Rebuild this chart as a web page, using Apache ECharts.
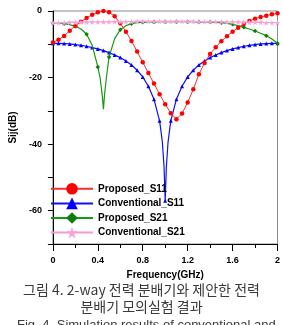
<!DOCTYPE html>
<html>
<head>
<meta charset="utf-8">
<script src="https://cdn.jsdelivr.net/npm/echarts@6/dist/echarts.min.js"></script>
<style>
  html, body { margin: 0; padding: 0; background: #fff; }
  #chart { width: 283px; height: 325px; }
</style>
</head>
<body>
<div id="chart"></div>
<script>
// frequency points (GHz)
const freq = [0, 0.05, 0.1, 0.15, 0.2, 0.25, 0.3, 0.35, 0.4, 0.45, 0.5, 0.55, 0.6, 0.65, 0.7, 0.75, 0.8, 0.85, 0.9, 0.95,
  1.0, 1.05, 1.1, 1.15, 1.2, 1.25, 1.3, 1.35, 1.4, 1.45, 1.5, 1.55, 1.6, 1.65, 1.7, 1.75, 1.8, 1.85, 1.9, 1.95, 2.0];

const proposedS11 = [-9.5, -8.6, -7.5, -5.9, -4.4, -3.2, -2.1, -1.1, -0.4, 0, -0.4, -1.6, -3.7, -6.2, -9.0, -12.2, -15.4, -18.6, -21.8, -25.0,
  -28.0, -30.7, -32.5, -30.8, -27.5, -23.5, -19.0, -15.6, -12.9, -10.9, -9.1, -7.6, -6.2, -5.0, -3.9, -3.0, -2.3, -1.8, -1.4, -1.0, -0.7];

const conventionalS11 = [-9.7, -9.7, -9.8, -9.9, -10.1, -10.3, -10.6, -11.0, -11.4, -11.9, -12.5, -13.2, -14.0, -15.0, -16.2, -17.8, -19.8, -22.6, -26.5, -33.0,
  -57.0, -33.0, -26.5, -22.6, -19.8, -17.8, -16.2, -15.0, -14.0, -13.2, -12.5, -11.9, -11.4, -11.0, -10.6, -10.3, -10.1, -9.9, -9.8, -9.7, -9.7];
// extra points around the deep null (no marker)
const convS11NullFreq = [0.96, 0.975, 0.99, 1.01, 1.025, 1.04];
const convS11NullVals = [-35.5, -39.5, -47.0, -47.0, -39.5, -35.5];

const proposedS21 = [-3.5, -3.6, -3.8, -4.1, -4.6, -5.4, -7.0, -10.3, -16.8, -29.5, -13.8, -8.3, -5.6, -4.4, -3.8, -3.5, -3.4, -3.3, -3.3, -3.2,
  -3.2, -3.2, -3.2, -3.2, -3.2, -3.2, -3.3, -3.3, -3.3, -3.4, -3.5, -3.7, -4.0, -4.4, -4.9, -5.4, -6.0, -6.7, -7.4, -8.4, -9.7];
const propS21NullFreq = [0.42, 0.44, 0.46, 0.48];
const propS21NullVals = [-20.0, -25.5, -25.0, -19.0];

const conventionalS21 = [-3.5, -3.5, -3.5, -3.4, -3.4, -3.4, -3.3, -3.3, -3.3, -3.3, -3.2, -3.2, -3.2, -3.2, -3.2, -3.1, -3.1, -3.1, -3.1, -3.1,
  -3.1, -3.1, -3.1, -3.1, -3.1, -3.1, -3.2, -3.2, -3.2, -3.2, -3.2, -3.3, -3.3, -3.3, -3.3, -3.4, -3.4, -3.4, -3.5, -3.5, -3.5];

const xLabels = ["0", "0.4", "0.8", "1.2", "1.6", "2"];
const yLabels = ["0", "-20", "-40", "-60"];

const starPath = "path://M50,0 L61,35 L98,35 L68,57 L79,91 L50,70 L21,91 L32,57 L2,35 L39,35 Z";

function build(vals, extraF, extraV, markEvery) {
  const pts = vals.map((v, i) => {
    const item = { value: [freq[i], v] };
    if (markEvery && i % markEvery !== 0) item.symbol = "none";
    return item;
  });
  if (extraF) {
    extraF.forEach((f, i) => pts.push({ value: [f, extraV[i]], symbol: "none" }));
    pts.sort((a, b) => a.value[0] - b.value[0]);
  }
  return pts;
}

const font = "Liberation Sans";
const chart = echarts.init(document.getElementById("chart"), null, { renderer: "canvas" });

chart.setOption({
  animation: false,
  backgroundColor: "#fff",
  grid: { left: 45, right: 5, top: 11, bottom: 81, show: true, borderColor: "#8a8a8a", borderWidth: 1 },
  xAxis: {
    type: "value", min: 0, max: 2, interval: 0.4,
    name: "Frequency(GHz)", nameLocation: "middle", nameGap: 21,
    nameTextStyle: { fontFamily: font, fontWeight: "bold", fontSize: 10, color: "#000" },
    axisLine: { onZero: false, lineStyle: { color: "#000", width: 1 } },
    axisTick: { length: 7, lineStyle: { color: "#000" } },
    minorTick: { show: true, splitNumber: 2, length: 4, lineStyle: { color: "#000" } },
    splitLine: { show: false },
    axisLabel: {
      margin: 12, fontFamily: font, fontWeight: "bold", fontSize: 9, color: "#000",
      formatter: v => xLabels[Math.round(v / 0.4)] || ""
    }
  },
  yAxis: {
    type: "value", min: -70, max: 0, interval: 10,
    name: "Sij(dB)", nameLocation: "middle", nameGap: 33, nameRotate: 90,
    nameTextStyle: { fontFamily: font, fontWeight: "bold", fontSize: 10, color: "#000" },
    axisLine: { show: true, onZero: false, lineStyle: { color: "#000", width: 1 } },
    axisTick: { show: true, length: 5, lineStyle: { color: "#000" } },
    splitLine: { show: false },
    axisLabel: {
      margin: 11, fontFamily: font, fontWeight: "bold", fontSize: 9, color: "#000",
      formatter: v => (Math.round(v) % 20 === 0 ? yLabels[Math.round(-v / 20)] : "")
    }
  },
  legend: {
    orient: "vertical", left: 45, top: 178, itemWidth: 42, itemHeight: 14.5, itemGap: 3,
    textStyle: { fontFamily: font, fontWeight: "bold", fontSize: 10, color: "#000" },
    data: ["Proposed_S11", "Conventional_S11", "Proposed_S21", "Conventional_S21"]
  },
  series: [
    {
      name: "Conventional_S11", type: "line", symbol: "triangle", symbolSize: 4, showAllSymbol: true,
      data: build(conventionalS11, convS11NullFreq, convS11NullVals),
      lineStyle: { color: "#1010f0", width: 1.2 }, itemStyle: { color: "#0000ff" }, z: 2
    },
    {
      name: "Proposed_S21", type: "line", symbol: "diamond", symbolSize: 4.5, showAllSymbol: true,
      data: build(proposedS21, propS21NullFreq, propS21NullVals, 2),
      lineStyle: { color: "#159a15", width: 1.2 }, itemStyle: { color: "#0a800a" }, z: 3
    },
    {
      name: "Proposed_S11", type: "line", symbol: "circle", symbolSize: 4.5, showAllSymbol: true,
      data: build(proposedS11),
      lineStyle: { color: "#f03030", width: 1 }, itemStyle: { color: "#ff0000" }, z: 4
    },
    {
      name: "Conventional_S21", type: "line", symbol: starPath, symbolSize: 6, showAllSymbol: true,
      data: build(conventionalS21),
      lineStyle: { color: "#f49ad6", width: 1.2 }, itemStyle: { color: "#f7a3da" }, z: 5
    }
  ],
  graphic: [
    { type: "text", left: "center", top: 283, style: { text: "그림 4. 2-way 전력 분배기와 제안한 전력", font: "14px 'Noto Sans CJK KR'", fill: "#3a3a3a" } },
    { type: "text", left: "center", top: 300, style: { text: "분배기 모의실험 결과", font: "14px 'Noto Sans CJK KR'", fill: "#3a3a3a" } },
    { type: "text", left: 17, top: 319, style: { text: "Fig. 4. Simulation results of conventional and", font: "13px 'Liberation Sans'", fill: "#3a3a3a" } }
  ]
});
</script>
</body>
</html>
